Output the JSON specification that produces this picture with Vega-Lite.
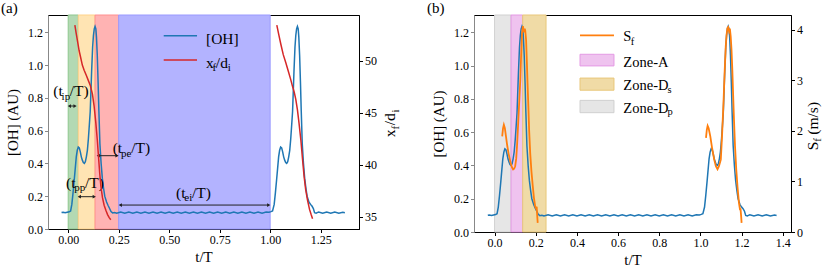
{
"$schema": "https://vega.github.io/schema/vega-lite/v6.json",
"padding": {"left": 0, "top": 0, "right": 0, "bottom": 0},
"spacing": 24,
"config": {
 "font": "Liberation Serif",
 "style": {"guide-label": {"font": "Liberation Serif", "fontSize": 12, "fill": "#000"}, "guide-title": {"font": "Liberation Serif", "fontSize": 15, "fill": "#000", "fontWeight": "normal"}},
 "view": {"stroke": "#000", "strokeWidth": 1},
 "axis": {"grid": false, "labelFont": "Liberation Serif", "titleFont": "Liberation Serif", "labelFontSize": 12, "labelColor": "#000", "titleFontSize": 15, "titleFontWeight": "normal", "titleColor": "#000", "tickSize": 3.5, "tickColor": "#000", "domainColor": "#000", "labelFlush": false, "labelOverlap": false, "labelPadding": 2},
 "text": {"font": "Liberation Serif"},
 "title": {"font": "Liberation Serif", "fontSize": 15, "fontWeight": "normal", "color": "#000"}
},
"datasets": {
 "oh": [
  {"t":-0.033,"v":0.1},{"t":-0.025,"v":0.102},{"t":-0.015,"v":0.099},{"t":-0.005,"v":0.102},{"t":0.005,"v":0.105},{"t":0.012,"v":0.11},{"t":0.018,"v":0.15},{"t":0.024,"v":0.22},{"t":0.03,"v":0.3},{"t":0.035,"v":0.37},{"t":0.04,"v":0.44},{"t":0.045,"v":0.48},{"t":0.05,"v":0.5},{"t":0.055,"v":0.495},{"t":0.06,"v":0.47},{"t":0.065,"v":0.44},{"t":0.07,"v":0.42},{"t":0.075,"v":0.405},{"t":0.08,"v":0.4},{"t":0.085,"v":0.41},{"t":0.09,"v":0.44},{"t":0.095,"v":0.48},{"t":0.1,"v":0.55},{"t":0.105,"v":0.64},{"t":0.109,"v":0.715},{"t":0.112,"v":0.82},{"t":0.116,"v":0.96},{"t":0.121,"v":1.11},{"t":0.125,"v":1.18},{"t":0.129,"v":1.22},{"t":0.133,"v":1.235},{"t":0.137,"v":1.22},{"t":0.14,"v":1.17},{"t":0.144,"v":1.06},{"t":0.148,"v":0.9},{"t":0.152,"v":0.72},{"t":0.157,"v":0.52},{"t":0.163,"v":0.4},{"t":0.169,"v":0.31},{"t":0.175,"v":0.25},{"t":0.181,"v":0.2},{"t":0.19,"v":0.165},{"t":0.197,"v":0.145},{"t":0.205,"v":0.125},{"t":0.212,"v":0.106},{"t":0.22,"v":0.098},{"t":0.23,"v":0.101},
  {"t":0.24,"v":0.096},{"t":0.26,"v":0.104},{"t":0.28,"v":0.096},{"t":0.30,"v":0.104},{"t":0.32,"v":0.096},{"t":0.34,"v":0.104},{"t":0.36,"v":0.096},{"t":0.38,"v":0.104},{"t":0.40,"v":0.096},{"t":0.42,"v":0.104},{"t":0.44,"v":0.096},{"t":0.46,"v":0.104},{"t":0.48,"v":0.096},{"t":0.50,"v":0.104},{"t":0.52,"v":0.096},{"t":0.54,"v":0.104},{"t":0.56,"v":0.096},{"t":0.58,"v":0.104},{"t":0.60,"v":0.096},{"t":0.62,"v":0.104},{"t":0.64,"v":0.096},{"t":0.66,"v":0.104},{"t":0.68,"v":0.096},{"t":0.70,"v":0.104},{"t":0.72,"v":0.096},{"t":0.74,"v":0.104},{"t":0.76,"v":0.096},{"t":0.78,"v":0.104},{"t":0.80,"v":0.096},{"t":0.82,"v":0.104},{"t":0.84,"v":0.096},{"t":0.86,"v":0.104},{"t":0.88,"v":0.096},{"t":0.90,"v":0.104},{"t":0.92,"v":0.096},{"t":0.94,"v":0.104},{"t":0.96,"v":0.096},{"t":0.98,"v":0.104},
  {"t":0.995,"v":0.102},{"t":1.004,"v":0.106},{"t":1.012,"v":0.11},{"t":1.02,"v":0.15},{"t":1.026,"v":0.22},{"t":1.032,"v":0.3},{"t":1.037,"v":0.37},{"t":1.042,"v":0.44},{"t":1.047,"v":0.48},{"t":1.052,"v":0.5},{"t":1.057,"v":0.495},{"t":1.062,"v":0.47},{"t":1.067,"v":0.44},{"t":1.072,"v":0.42},{"t":1.077,"v":0.405},{"t":1.082,"v":0.4},{"t":1.087,"v":0.41},{"t":1.092,"v":0.44},{"t":1.097,"v":0.48},{"t":1.102,"v":0.55},{"t":1.107,"v":0.64},{"t":1.111,"v":0.715},{"t":1.114,"v":0.82},{"t":1.118,"v":0.96},{"t":1.123,"v":1.11},{"t":1.127,"v":1.18},{"t":1.131,"v":1.22},{"t":1.135,"v":1.235},{"t":1.139,"v":1.22},{"t":1.142,"v":1.17},{"t":1.146,"v":1.06},{"t":1.15,"v":0.9},{"t":1.154,"v":0.72},{"t":1.159,"v":0.52},{"t":1.165,"v":0.4},{"t":1.171,"v":0.31},{"t":1.177,"v":0.25},{"t":1.183,"v":0.2},{"t":1.192,"v":0.165},{"t":1.2,"v":0.15},{"t":1.207,"v":0.14},{"t":1.214,"v":0.125},{"t":1.22,"v":0.1},{"t":1.228,"v":0.097},{"t":1.24,"v":0.104},{"t":1.26,"v":0.096},{"t":1.28,"v":0.104},{"t":1.3,"v":0.096},{"t":1.32,"v":0.104},{"t":1.34,"v":0.096},{"t":1.36,"v":0.102},{"t":1.37,"v":0.099}
 ],
 "xf": [
  {"t":0.033,"r":53.45,"g":1},{"t":0.04,"r":52.6,"g":1},{"t":0.047,"r":51.8,"g":1},{"t":0.054,"r":51.0,"g":1},{"t":0.062,"r":50.3,"g":1},{"t":0.07,"r":49.6,"g":1},{"t":0.079,"r":49.1,"g":1},{"t":0.09,"r":48.6,"g":1},{"t":0.1,"r":48.1,"g":1},{"t":0.11,"r":47.6,"g":1},{"t":0.12,"r":46.8,"g":1},{"t":0.128,"r":45.7,"g":1},{"t":0.137,"r":44.0,"g":1},{"t":0.144,"r":42.4,"g":1},{"t":0.15,"r":40.8,"g":1},{"t":0.156,"r":39.2,"g":1},{"t":0.162,"r":37.9,"g":1},{"t":0.17,"r":36.8,"g":1},{"t":0.178,"r":36.1,"g":1},{"t":0.187,"r":35.6,"g":1},{"t":0.195,"r":35.2,"g":1},{"t":0.203,"r":34.9,"g":1},{"t":0.211,"r":34.7,"g":1},
  {"t":1.033,"r":53.45,"g":2},{"t":1.043,"r":52.5,"g":2},{"t":1.053,"r":51.6,"g":2},{"t":1.065,"r":50.6,"g":2},{"t":1.078,"r":49.8,"g":2},{"t":1.09,"r":49.0,"g":2},{"t":1.102,"r":48.2,"g":2},{"t":1.11,"r":47.6,"g":2},{"t":1.119,"r":47.0,"g":2},{"t":1.127,"r":46.3,"g":2},{"t":1.135,"r":45.3,"g":2},{"t":1.143,"r":44.0,"g":2},{"t":1.152,"r":42.4,"g":2},{"t":1.16,"r":40.6,"g":2},{"t":1.168,"r":38.9,"g":2},{"t":1.176,"r":37.6,"g":2},{"t":1.185,"r":36.6,"g":2},{"t":1.195,"r":35.7,"g":2},{"t":1.203,"r":35.2,"g":2},{"t":1.21,"r":34.8,"g":2}
 ],
 "sf": [
  {"t":0.037,"s":1.89,"g":1},{"t":0.041,"s":2.05,"g":1},{"t":0.045,"s":2.12,"g":1},{"t":0.05,"s":2.05,"g":1},{"t":0.055,"s":1.9,"g":1},{"t":0.061,"s":1.72,"g":1},{"t":0.068,"s":1.55,"g":1},{"t":0.077,"s":1.38,"g":1},{"t":0.084,"s":1.28,"g":1},{"t":0.09,"s":1.235,"g":1},{"t":0.095,"s":1.25,"g":1},{"t":0.1,"s":1.3,"g":1},{"t":0.105,"s":1.45,"g":1},{"t":0.109,"s":1.7,"g":1},{"t":0.114,"s":2.1,"g":1},{"t":0.12,"s":2.6,"g":1},{"t":0.125,"s":3.01,"g":1},{"t":0.129,"s":3.5,"g":1},{"t":0.133,"s":3.93,"g":1},{"t":0.1375,"s":4.07,"g":1},{"t":0.141,"s":4.0,"g":1},{"t":0.144,"s":3.95,"g":1},{"t":0.1465,"s":4.02,"g":1},{"t":0.149,"s":3.98,"g":1},{"t":0.153,"s":3.8,"g":1},{"t":0.157,"s":3.34,"g":1},{"t":0.16,"s":2.95,"g":1},{"t":0.164,"s":2.49,"g":1},{"t":0.168,"s":2.0,"g":1},{"t":0.173,"s":1.56,"g":1},{"t":0.179,"s":1.2,"g":1},{"t":0.1855,"s":0.91,"g":1},{"t":0.191,"s":0.68,"g":1},{"t":0.197,"s":0.51,"g":1},{"t":0.201,"s":0.47,"g":1},{"t":0.2045,"s":0.5,"g":1},{"t":0.207,"s":0.33,"g":1},{"t":0.2095,"s":0.18,"g":1},
  {"t":1.027,"s":1.86,"g":2},{"t":1.031,"s":2.02,"g":2},{"t":1.035,"s":2.1,"g":2},{"t":1.04,"s":2.05,"g":2},{"t":1.048,"s":1.89,"g":2},{"t":1.057,"s":1.65,"g":2},{"t":1.067,"s":1.43,"g":2},{"t":1.075,"s":1.3,"g":2},{"t":1.083,"s":1.24,"g":2},{"t":1.09,"s":1.3,"g":2},{"t":1.099,"s":1.43,"g":2},{"t":1.105,"s":1.9,"g":2},{"t":1.112,"s":2.55,"g":2},{"t":1.118,"s":3.2,"g":2},{"t":1.123,"s":3.67,"g":2},{"t":1.127,"s":3.9,"g":2},{"t":1.131,"s":4.03,"g":2},{"t":1.135,"s":4.05,"g":2},{"t":1.139,"s":3.97,"g":2},{"t":1.143,"s":4.02,"g":2},{"t":1.147,"s":3.87,"g":2},{"t":1.151,"s":3.6,"g":2},{"t":1.155,"s":3.2,"g":2},{"t":1.159,"s":2.7,"g":2},{"t":1.163,"s":2.22,"g":2},{"t":1.168,"s":1.7,"g":2},{"t":1.174,"s":1.24,"g":2},{"t":1.18,"s":0.9,"g":2},{"t":1.187,"s":0.58,"g":2},{"t":1.192,"s":0.45,"g":2},{"t":1.195,"s":0.45,"g":2},{"t":1.198,"s":0.3,"g":2},{"t":1.2,"s":0.18,"g":2}
 ],
 "zonesA": [{"z":"ip","t":0,"t2":0.05},{"z":"pp","t":0.05,"t2":0.133},{"z":"pe","t":0.133,"t2":0.25},{"z":"ei","t":0.25,"t2":1.0}],
 "zonesB": [{"z":"Dp","t":0,"t2":0.08},{"z":"A","t":0.08,"t2":0.1366},{"z":"Ds","t":0.1366,"t2":0.25}],
 "legA": [{"s":"OH","t":0.473,"t2":0.638,"v":1.179},{"s":"XF","t":0.473,"t2":0.638,"v":1.03}],
 "legB": [{"s":"SF","t":0.415,"t2":0.58,"v":1.182}],
 "patchB": [{"z":"A","t":0.415,"t2":0.58,"v":0.998,"v2":1.068},{"z":"Ds","t":0.415,"t2":0.58,"v":0.852,"v2":0.925},{"z":"Dp","t":0.415,"t2":0.58,"v":0.717,"v2":0.791}],
 "arrowsA": [{"t":0.006,"t2":0.034,"v":0.75},{"t":0.149,"t2":0.2417,"v":0.447},{"t":0.055,"t2":0.129,"v":0.197},{"t":0.258,"t2":0.993,"v":0.146}],
 "textA": [
  {"t":-0.0738,"v":0.811,"txt":"(t"},{"t":0.0079,"v":0.811,"txt":"/T)"},
  {"t":0.2204,"v":0.4616,"txt":"(t"},{"t":0.312,"v":0.4616,"txt":"/T)"},
  {"t":-0.0109,"v":0.248,"txt":"(t"},{"t":0.0832,"v":0.248,"txt":"/T)"},
  {"t":0.5338,"v":0.187,"txt":"(t"},{"t":0.613,"v":0.187,"txt":"/T)"},
  {"t":0.6824,"v":1.128,"txt":"[OH]"},
  {"t":0.6824,"v":0.98,"txt":"x"},{"t":0.731,"v":0.98,"txt":"/d"}
 ],
 "subA": [
  {"t":-0.0327,"v":0.787,"txt":"ip"},{"t":0.2615,"v":0.442,"txt":"pe"},{"t":0.0302,"v":0.229,"txt":"pp"},{"t":0.575,"v":0.171,"txt":"ei"},
  {"t":0.714,"v":0.965,"txt":"f"},{"t":0.79,"v":0.965,"txt":"i"}
 ],
 "rotA": [{"t":1.618,"v":0.56,"txt":"x"},{"t":1.618,"v":0.632,"txt":"/d"}],
 "rotsubA": [{"t":1.636,"v":0.607,"txt":"f"},{"t":1.636,"v":0.71,"txt":"i"}],
 "textB": [{"t":0.6255,"v":1.146,"txt":"S"},{"t":0.6255,"v":0.992,"txt":"Zone-A"},{"t":0.6255,"v":0.855,"txt":"Zone-D"},{"t":0.6255,"v":0.717,"txt":"Zone-D"}],
 "subB": [{"t":0.662,"v":1.122,"txt":"f"},{"t":0.84,"v":0.837,"txt":"s"},{"t":0.84,"v":0.705,"txt":"p"}],
 "rotB": [{"t":1.5715,"v":0.491,"txt":"S"},{"t":1.5715,"v":0.585,"txt":"(m/s)"}],
 "rotsubB": [{"t":1.586,"v":0.543,"txt":"f"}]
},
"hconcat": [
 {
  "width": 311, "height": 214,
  "title": {"text": "(a)", "anchor": "start", "frame": "group", "dx": -47, "offset": -1, "font": "Liberation Serif", "fontSize": 15},
  "encoding": {"x": {"field": "t", "type": "quantitative", "title": "t/T", "scale": {"domain": [-0.1, 1.44], "nice": false, "zero": false}, "axis": {"values": [0, 0.25, 0.5, 0.75, 1.0, 1.25], "format": ".2f", "titlePadding": 4, "labelFont": "Liberation Serif", "titleFont": "Liberation Serif"}}},
  "layer": [
   {"data": {"name": "zonesA"}, "mark": {"type": "rect", "strokeWidth": 1},
    "encoding": {"x2": {"field": "t2"},
     "fill": {"field": "z", "type": "nominal", "legend": null, "scale": {"domain": ["ip","pp","pe","ei","Dp","A","Ds"], "range": ["#b3d9b3","#ffe4b3","#ffb3b3","#b3b3ff","#e6e6e6","#efc3ef","#f0dba6"]}},
     "stroke": {"field": "z", "type": "nominal", "legend": null, "scale": {"domain": ["ip","pp","pe","ei","Dp","A","Ds"], "range": ["#8fc78f","#ffd28a","#ff9090","#9a9aff","#d0d0d0","#e49ae4","#e8c77a"]}}}},
   {
    "encoding": {"y": {"field": "v", "type": "quantitative", "title": "[OH] (AU)", "scale": {"domain": [0, 1.305], "nice": false, "zero": false}, "axis": {"values": [0, 0.2, 0.4, 0.6, 0.8, 1.0, 1.2], "format": ".1f", "domainColor": "#888", "tickColor": "#888", "titlePadding": 7, "labelFont": "Liberation Serif", "titleFont": "Liberation Serif"}}},
    "layer": [
     {"data": {"name": "oh"}, "mark": {"type": "line", "color": "#1f77b4", "strokeWidth": 1.5}},
     {"data": {"name": "legA"}, "mark": {"type": "rule", "strokeWidth": 1.5},
      "encoding": {"x2": {"field": "t2"}, "color": {"field": "s", "type": "nominal", "legend": null, "scale": {"domain": ["OH","XF","SF"], "range": ["#1f77b4","#d62728","#ff7f0e"]}}}},
     {"data": {"name": "arrowsA"}, "mark": {"type": "rule", "strokeWidth": 1, "color": "#222"}, "encoding": {"x2": {"field": "t2"}}},
     {"data": {"name": "arrowsA"}, "mark": {"type": "point", "shape": "triangle-left", "filled": true, "size": 14, "color": "#222", "opacity": 1}},
     {"data": {"name": "arrowsA"}, "mark": {"type": "point", "shape": "triangle-right", "filled": true, "size": 14, "color": "#222", "opacity": 1},
      "encoding": {"x": {"field": "t2", "type": "quantitative", "title": "t/T", "scale": {"domain": [-0.1, 1.44], "nice": false, "zero": false}}}},
     {"data": {"name": "textA"}, "mark": {"type": "text", "font": "Liberation Serif", "align": "left", "baseline": "alphabetic", "fontSize": 15.5, "color": "#000"}, "encoding": {"text": {"field": "txt"}}},
     {"data": {"name": "subA"}, "mark": {"type": "text", "font": "Liberation Serif", "align": "left", "baseline": "alphabetic", "fontSize": 11, "color": "#000"}, "encoding": {"text": {"field": "txt"}}},
     {"data": {"name": "rotA"}, "mark": {"type": "text", "font": "Liberation Serif", "align": "left", "baseline": "alphabetic", "angle": 270, "fontSize": 15.5, "color": "#000"}, "encoding": {"text": {"field": "txt"}}},
     {"data": {"name": "rotsubA"}, "mark": {"type": "text", "font": "Liberation Serif", "align": "left", "baseline": "alphabetic", "angle": 270, "fontSize": 11, "color": "#000"}, "encoding": {"text": {"field": "txt"}}}
    ]
   },
   {"data": {"name": "xf"}, "mark": {"type": "line", "color": "#d62728", "strokeWidth": 1.5},
    "encoding": {"detail": {"field": "g"}, "y": {"field": "r", "type": "quantitative", "title": null, "scale": {"domain": [33.81, 54.42], "nice": false, "zero": false}, "axis": {"orient": "right", "values": [35, 40, 45, 50], "title": null, "labelFont": "Liberation Serif"}}}}
  ],
  "resolve": {"scale": {"y": "independent"}}
 },
 {
  "width": 317, "height": 217,
  "title": {"text": "(b)", "anchor": "start", "frame": "group", "dx": -47, "offset": -1, "font": "Liberation Serif", "fontSize": 15},
  "encoding": {"x": {"field": "t", "type": "quantitative", "title": "t/T", "scale": {"domain": [-0.1, 1.44], "nice": false, "zero": false}, "axis": {"values": [0, 0.2, 0.4, 0.6, 0.8, 1.0, 1.2, 1.4], "format": ".1f", "titlePadding": 4, "labelFont": "Liberation Serif", "titleFont": "Liberation Serif"}}},
  "layer": [
   {"data": {"name": "zonesB"}, "mark": {"type": "rect", "strokeWidth": 1},
    "encoding": {"x2": {"field": "t2"},
     "fill": {"field": "z", "type": "nominal", "legend": null, "scale": {"domain": ["ip","pp","pe","ei","Dp","A","Ds"], "range": ["#b3d9b3","#ffe4b3","#ffb3b3","#b3b3ff","#e6e6e6","#efc3ef","#f0dba6"]}},
     "stroke": {"field": "z", "type": "nominal", "legend": null, "scale": {"domain": ["ip","pp","pe","ei","Dp","A","Ds"], "range": ["#8fc78f","#ffd28a","#ff9090","#9a9aff","#d0d0d0","#e49ae4","#e8c77a"]}}}},
   {
    "encoding": {"y": {"field": "v", "type": "quantitative", "title": "[OH] (AU)", "scale": {"domain": [0, 1.304], "nice": false, "zero": false}, "axis": {"values": [0, 0.2, 0.4, 0.6, 0.8, 1.0, 1.2], "format": ".1f", "domainColor": "#888", "tickColor": "#888", "titlePadding": 7, "labelFont": "Liberation Serif", "titleFont": "Liberation Serif"}}},
    "layer": [
     {"data": {"name": "oh"}, "mark": {"type": "line", "color": "#1f77b4", "strokeWidth": 1.5}},
     {"data": {"name": "legB"}, "mark": {"type": "rule", "strokeWidth": 1.8},
      "encoding": {"x2": {"field": "t2"}, "color": {"field": "s", "type": "nominal", "legend": null, "scale": {"domain": ["OH","XF","SF"], "range": ["#1f77b4","#d62728","#ff7f0e"]}}}},
     {"data": {"name": "patchB"}, "mark": {"type": "rect", "strokeWidth": 1},
      "encoding": {"x2": {"field": "t2"}, "y2": {"field": "v2"},
       "fill": {"field": "z", "type": "nominal", "legend": null, "scale": {"domain": ["ip","pp","pe","ei","Dp","A","Ds"], "range": ["#b3d9b3","#ffe4b3","#ffb3b3","#b3b3ff","#e6e6e6","#efc3ef","#f0dba6"]}},
       "stroke": {"field": "z", "type": "nominal", "legend": null, "scale": {"domain": ["ip","pp","pe","ei","Dp","A","Ds"], "range": ["#8fc78f","#ffd28a","#ff9090","#9a9aff","#d0d0d0","#e49ae4","#e8c77a"]}}}},
     {"data": {"name": "textB"}, "mark": {"type": "text", "font": "Liberation Serif", "align": "left", "baseline": "alphabetic", "fontSize": 14.5, "color": "#000"}, "encoding": {"text": {"field": "txt"}}},
     {"data": {"name": "subB"}, "mark": {"type": "text", "font": "Liberation Serif", "align": "left", "baseline": "alphabetic", "fontSize": 10.5, "color": "#000"}, "encoding": {"text": {"field": "txt"}}},
     {"data": {"name": "rotB"}, "mark": {"type": "text", "font": "Liberation Serif", "align": "left", "baseline": "alphabetic", "angle": 270, "fontSize": 15.5, "color": "#000"}, "encoding": {"text": {"field": "txt"}}},
     {"data": {"name": "rotsubB"}, "mark": {"type": "text", "font": "Liberation Serif", "align": "left", "baseline": "alphabetic", "angle": 270, "fontSize": 11, "color": "#000"}, "encoding": {"text": {"field": "txt"}}}
    ]
   },
   {"data": {"name": "sf"}, "mark": {"type": "line", "color": "#ff7f0e", "strokeWidth": 1.8},
    "encoding": {"detail": {"field": "g"}, "y": {"field": "s", "type": "quantitative", "title": null, "scale": {"domain": [0, 4.29], "nice": false, "zero": false}, "axis": {"orient": "right", "values": [0, 1, 2, 3, 4], "format": "d", "title": null, "labelFont": "Liberation Serif"}}}}
  ],
  "resolve": {"scale": {"y": "independent"}}
 }
]
}
